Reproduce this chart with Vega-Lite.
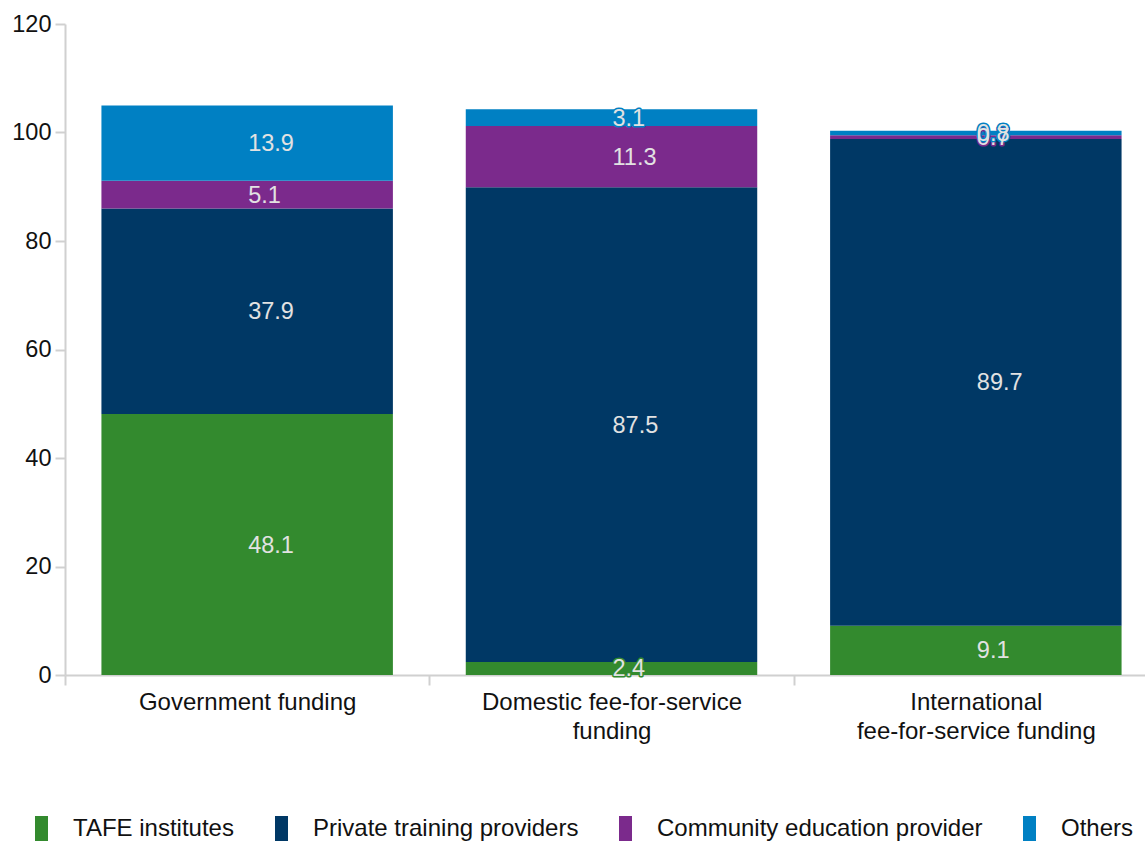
{
  "$schema": "https://vega.github.io/schema/vega-lite/v6.json",
  "width": 1078,
  "height": 651,
  "autosize": {"type": "none"},
  "padding": {"left": 65, "right": 2, "top": 24, "bottom": 166},
  "background": "white",
  "config": {
    "font": "Liberation Sans",
    "view": {"stroke": null}
  },
  "data": {
    "values": [
      {"funding": "Government funding", "provider": "TAFE institutes", "ord": 1, "value": 48.1},
      {"funding": "Government funding", "provider": "Private training providers", "ord": 2, "value": 37.9},
      {"funding": "Government funding", "provider": "Community education provider", "ord": 3, "value": 5.1},
      {"funding": "Government funding", "provider": "Others", "ord": 4, "value": 13.9},
      {"funding": "Domestic fee-for-service funding", "provider": "TAFE institutes", "ord": 1, "value": 2.4},
      {"funding": "Domestic fee-for-service funding", "provider": "Private training providers", "ord": 2, "value": 87.5},
      {"funding": "Domestic fee-for-service funding", "provider": "Community education provider", "ord": 3, "value": 11.3},
      {"funding": "Domestic fee-for-service funding", "provider": "Others", "ord": 4, "value": 3.1},
      {"funding": "International fee-for-service funding", "provider": "TAFE institutes", "ord": 1, "value": 9.1},
      {"funding": "International fee-for-service funding", "provider": "Private training providers", "ord": 2, "value": 89.7},
      {"funding": "International fee-for-service funding", "provider": "Community education provider", "ord": 3, "value": 0.7},
      {"funding": "International fee-for-service funding", "provider": "Others", "ord": 4, "value": 0.8}
    ]
  },
  "transform": [
    {"stack": "value", "groupby": ["funding"], "sort": [{"field": "ord", "order": "ascending"}], "as": ["v0", "v1"]},
    {"calculate": "(datum.v0 + datum.v1) / 2", "as": "vmid"}
  ],
  "encoding": {
    "x": {
      "field": "funding",
      "type": "nominal",
      "sort": ["Government funding", "Domestic fee-for-service funding", "International fee-for-service funding"],
      "scale": {"paddingInner": 0, "paddingOuter": 0, "range": [0, 1093]},
      "axis": {
        "title": null,
        "labelAngle": 0,
        "labelFontSize": 24,
        "labelColor": "#111111",
        "labelPadding": 5,
        "labelLimit": 0,
        "labelLineHeight": 29,
        "labelExpr": "datum.label == 'Domestic fee-for-service funding' ? ['Domestic fee-for-service', 'funding'] : datum.label == 'International fee-for-service funding' ? ['International', 'fee-for-service funding'] : datum.label",
        "ticks": true,
        "tickBand": "extent",
        "tickColor": "#d0d0d0",
        "tickWidth": 2,
        "tickSize": 10,
        "domainColor": "#d0d0d0",
        "domainWidth": 2
      }
    }
  },
  "layer": [
    {
      "mark": {"type": "bar", "width": {"band": 0.8}},
      "encoding": {
        "y": {
          "field": "v0",
          "type": "quantitative",
          "scale": {"domain": [0, 120]},
          "axis": {
            "title": null,
            "values": [0, 20, 40, 60, 80, 100, 120],
            "grid": false,
            "labelFontSize": 23.5,
            "labelColor": "#111111",
            "domainColor": "#d0d0d0",
            "domainWidth": 2,
            "tickColor": "#d0d0d0",
            "tickWidth": 2,
            "tickSize": 10,
            "labelPadding": 4
          }
        },
        "y2": {"field": "v1"},
        "color": {
          "field": "provider",
          "type": "nominal",
          "sort": ["TAFE institutes", "Private training providers", "Community education provider", "Others"],
          "scale": {
            "domain": ["TAFE institutes", "Private training providers", "Community education provider", "Others"],
            "range": ["#338a2e", "#003865", "#7b2a8c", "#0080c3"]
          },
          "legend": {
            "title": null,
            "orient": "none",
            "legendX": -36.5,
            "legendY": 792,
            "direction": "horizontal",
            "symbolType": "M-0.5,-1H0.5V1H-0.5Z",
            "symbolSize": 676,
            "symbolStrokeWidth": 0,
            "symbolOpacity": 1,
            "labelFontSize": 24,
            "labelColor": "#111111",
            "labelLimit": 0,
            "columnPadding": 34,
            "labelOffset": 18.5
          }
        }
      }
    },
    {
      "mark": {"type": "text", "fontSize": 23.5, "strokeWidth": 3, "strokeJoin": "round", "baseline": "middle", "align": "left", "dx": 1, "dy": 1},
      "encoding": {
        "y": {"field": "vmid", "type": "quantitative"},
        "text": {"field": "value", "type": "quantitative", "format": ".1f"},
        "stroke": {
          "field": "provider",
          "type": "nominal",
          "scale": {
            "domain": ["TAFE institutes", "Private training providers", "Community education provider", "Others"],
            "range": ["#338a2e", "#003865", "#7b2a8c", "#0080c3"]
          },
          "legend": null
        },
        "fill": {
          "field": "provider",
          "type": "nominal",
          "scale": {
            "domain": ["TAFE institutes", "Private training providers", "Community education provider", "Others"],
            "range": ["#338a2e", "#003865", "#7b2a8c", "#0080c3"]
          },
          "legend": null
        }
      }
    },
    {
      "mark": {"type": "text", "fontSize": 23.5, "fill": "#e2e2e2", "baseline": "middle", "align": "left", "dx": 1, "dy": 1},
      "encoding": {
        "y": {"field": "vmid", "type": "quantitative"},
        "text": {"field": "value", "type": "quantitative", "format": ".1f"}
      }
    }
  ]
}
